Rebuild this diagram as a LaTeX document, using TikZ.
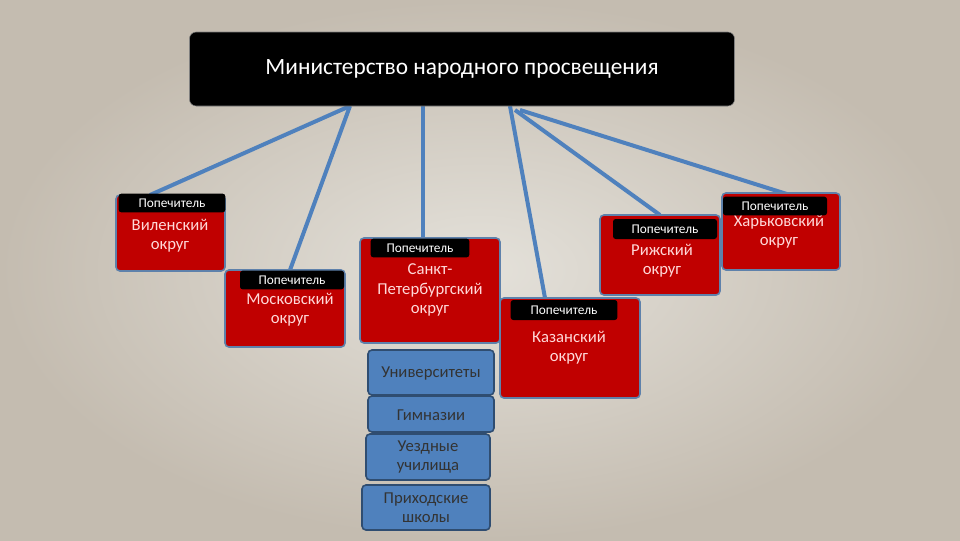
\documentclass[tikz,border=0pt]{standalone}
\usepackage{fontspec}
\setmainfont{Carlito}
\begin{document}
\begin{tikzpicture}[x=0.75pt,y=-0.75pt,
 red/.style={draw=myblue!70!gray,line width=1.2pt,fill=myred,rounded corners=3pt},
 lab/.style={fill=black,rounded corners=2pt,text=white,font=\fontsize{10}{12}\selectfont,inner sep=2pt},
 rt/.style={text=white!85!red,font=\fontsize{12.5}{14.5}\selectfont,align=center,inner sep=0pt},
 bl/.style={draw=myblue!60!black,line width=1.2pt,fill=myblue,rounded corners=3pt},
 ln/.style={draw=myblue,line width=3pt}]
\definecolor{myblue}{HTML}{4F81BD}
\definecolor{myred}{HTML}{C00000}
\definecolor{bgin}{HTML}{E4E1DA}
\definecolor{bgout}{HTML}{C4BCB0}
\fill[inner color=bgin,outer color=bgout] (0,0) rectangle (960,540);
\useasboundingbox (0,0) rectangle (960,540);
% lines
\coordinate (m1) at (350,106); \coordinate (m2) at (423,106); \coordinate (m3) at (510,106);
\coordinate (m4) at (515,110); \coordinate (m5) at (520,110);
\draw[ln] (m1) -- (150,195);
\draw[ln] (m1) -- (290,270);
\draw[ln] (m2) -- (423,238);
\draw[ln] (m3) -- (545,298);
\draw[ln] (m4) -- (660,215);
\draw[ln] (m5) -- (790,195);
% ministry
\node[fill=black,rounded corners=5pt,draw=gray,minimum width=545*0.75pt,minimum height=74*0.75pt,text=white,font=\fontsize{17.5}{20}\selectfont] (min) at (462,69) {Министерство народного просвещения};
% red boxes
\draw[red] (116,195) rectangle (225,271);
\node[rt] (v) at (170,236) {Виленский\\округ};
\node[lab,minimum width=80pt,minimum height=14pt] (vl) at (172,203) {Попечитель};
\draw[red] (225,270) rectangle (345,347);
\node[rt] (mo) at (290,310) {Московский\\округ};
\node[lab,minimum width=78pt,minimum height=14pt] (ml) at (292,280) {Попечитель};
\draw[red] (360,238) rectangle (500,343);
\node[rt] (sp) at (430,290) {Санкт-\\Петербургский\\округ};
\node[lab,minimum width=74pt,minimum height=14pt] (sl) at (420,248) {Попечитель};
\draw[red] (600,215) rectangle (720,295);
\node[rt] (ri) at (662,261) {Рижский\\округ};
\node[lab,minimum width=78pt,minimum height=15pt] (rl) at (665,229) {Попечитель};
\draw[red] (722,193) rectangle (840,270);
\node[rt] (kh) at (779,232) {Харьковский\\округ};
\node[lab,minimum width=78pt,minimum height=14pt] (kl) at (775,206) {Попечитель};
\draw[red] (500,298) rectangle (640,398);
\node[rt] (ka) at (569,348) {Казанский\\округ};
\node[lab,minimum width=80pt,minimum height=15pt] (kal) at (564,310) {Попечитель};
% blue boxes
\draw[bl] (368,350) rectangle (494,395);
\node[rt,text=black!80] (u) at (431,373) {Университеты};
\draw[bl] (368,396) rectangle (494,432);
\node[rt,text=black!80] (g) at (431,415) {Гимназии};
\draw[bl] (366,434) rectangle (490,480);
\node[rt,text=black!80] (uz) at (428,457) {Уездные\\училища};
\draw[bl] (362,485) rectangle (490,530);
\node[rt,text=black!80] (pr) at (426,508) {Приходские\\школы};
\end{tikzpicture}
\end{document}
